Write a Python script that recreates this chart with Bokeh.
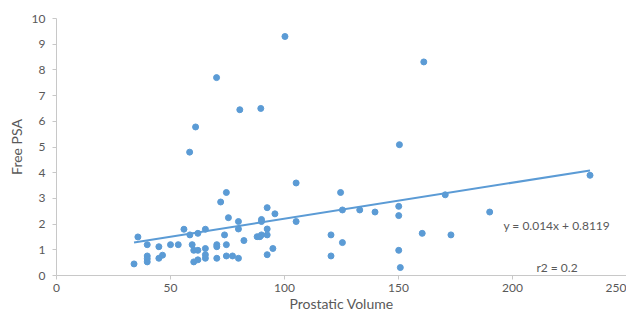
from bokeh.plotting import figure
from bokeh.models import Range1d, Label, FixedTicker, ColumnDataSource
from bokeh.embed import file_html
from bokeh.resources import INLINE

# Data
prostatic_volume = [34, 35.7, 39.8, 39.8, 39.8, 39.8, 44.9, 44.9, 46.5, 50, 53.4, 55.9,
                    58.5, 58.4, 61, 59.5, 60.2, 62, 62, 60.2, 62, 65.3, 65.3, 65.3, 65.3,
                    70.3, 70.3, 70.3, 70.2, 72, 74.5, 75.4, 73.7, 74.5, 74.5, 77.2, 79.8,
                    79.8, 79.8, 80.4, 82.2, 88, 89.2, 89.9, 89.9, 89.9, 89.6, 92.4, 92.4,
                    92.4, 92.4, 94.9, 95.8, 100.2, 105.1, 105.1, 120.4, 120.4, 124.6, 125.4,
                    125.4, 133, 139.7, 150.4, 150.1, 150.1, 150.1, 150.8, 160.4, 161.1,
                    170.5, 173, 190, 234]
free_psa = [0.45, 1.5, 1.2, 0.76, 0.65, 0.53, 1.12, 0.67, 0.79, 1.2, 1.2, 1.8,
            1.58, 4.8, 5.78, 1.2, 0.98, 0.98, 1.64, 0.53, 0.61, 1.8, 1.05, 0.81, 0.67,
            1.2, 1.12, 0.67, 7.7, 2.86, 3.23, 2.25, 1.58, 1.2, 0.76, 0.76, 2.1,
            1.81, 0.67, 6.45, 1.36, 1.51, 1.51, 1.58, 2.18, 2.1, 6.5, 2.64, 1.81,
            1.58, 0.81, 1.05, 2.4, 9.3, 3.6, 2.1, 1.58, 0.76, 3.23, 2.55,
            1.28, 2.55, 2.47, 5.09, 2.69, 2.33, 0.98, 0.31, 1.64, 8.31,
            3.14, 1.58, 2.47, 3.9]

slope = 0.014
intercept = 0.8119
equation_text = "y = 0.014x + 0.8119"
r2_text = "r2 = 0.2"

x_ticks = [0, 50, 100, 150, 200, 250]
y_ticks = [0, 1, 2, 3, 4, 5, 6, 7, 8, 9, 10]

BLUE = "#5b9bd5"
TXT = "#595959"
FONT = "Lato"

p = figure(width=626, height=314, output_backend="svg", toolbar_location=None,
           x_range=Range1d(0, 250), y_range=Range1d(0, 10),
           min_border_left=56, min_border_right=0, min_border_top=18, min_border_bottom=39)
p.outline_line_color = None
p.grid.grid_line_color = None
p.background_fill_color = "white"
p.border_fill_color = "white"

for ax in (p.xaxis[0], p.yaxis[0]):
    ax.axis_line_color = "#c8c8c8"
    ax.major_tick_line_color = "#c8c8c8"
    ax.major_tick_out = 4
    ax.major_tick_in = 0
    ax.minor_tick_line_color = None
    ax.major_label_text_color = TXT
    ax.major_label_text_font = FONT
    ax.major_label_text_font_size = "12px"
    ax.axis_label_text_color = TXT
    ax.axis_label_text_font = FONT
    ax.axis_label_text_font_size = "14px"
    ax.axis_label_text_font_style = "normal"

p.xaxis.ticker = FixedTicker(ticks=x_ticks)
p.yaxis.ticker = FixedTicker(ticks=y_ticks)
p.xaxis.axis_label = "Prostatic Volume"
p.yaxis.axis_label = "Free PSA"
p.xaxis.major_label_standoff = 4
p.yaxis.major_label_standoff = 7
p.xaxis.axis_label_standoff = 0
p.yaxis.axis_label_standoff = 4

src = ColumnDataSource(dict(x=prostatic_volume, y=free_psa))

xmin, xmax = min(prostatic_volume), max(prostatic_volume)
p.line([xmin, xmax], [slope * xmin + intercept, slope * xmax + intercept],
       line_color=BLUE, line_width=2)
p.scatter("x", "y", source=src, size=6, fill_color=BLUE, line_color=BLUE)

p.add_layout(Label(x=196, y=1.94, text=equation_text, text_color=TXT, text_font=FONT,
                   text_font_size="12px", text_baseline="middle", text_align="left"))
p.add_layout(Label(x=210.5, y=0.02, text=r2_text, text_color=TXT, text_font=FONT,
                   text_font_size="12px", text_baseline="bottom", text_align="left"))

open("out.html", "w").write(file_html(p, INLINE))
